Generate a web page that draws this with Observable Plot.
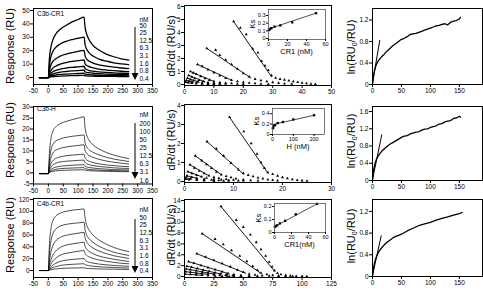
<!DOCTYPE html>
<html><head><meta charset="utf-8">
<script src="https://cdn.jsdelivr.net/npm/d3@7"></script>
<script src="https://cdn.jsdelivr.net/npm/@observablehq/plot@0.6"></script>
<style>
body{margin:0;background:#fff;}
#fig{position:relative;width:483px;height:291px;overflow:hidden;background:#fff;font-family:"Liberation Sans",Arial,Helvetica,sans-serif;color:#000;}
.ylab{position:absolute;font-size:11px;white-space:nowrap;transform:translate(-50%,-50%) rotate(-90deg);line-height:1;}
.ylab sub{font-size:7px;vertical-align:-2px;}
.t{position:absolute;white-space:nowrap;line-height:1;}
</style>
</head><body><div id="fig"></div>
<script>
// ---------- data ----------
const sensorTime = [-30,-15,0,3,8,15,25,40,60,80,100,120,123,128,135,150,170,195,220,245,270];

const c3bCR1Conc = ["50","25","12.5","6.3","3.1","1.6","0.8","0.4"];
const c3bCR1Resp = [
  [0,0,0,13,22,28,32.5,36,39,41.5,43.3,45,38,33,29,24,20.5,17.5,15.5,14,13],
  [0,0,0,8,15,19.5,22.5,25,27,28.3,29.3,30.2,25,21.5,19,16,13.8,12.2,11,10.2,9.6],
  [0,0,0,4.5,9,12,14,16,17.5,18.6,19.5,20.3,16.5,14,12.5,10.8,9.5,8.5,7.7,7.1,6.6],
  [0,0,0,2.5,5,7,8.5,10,11.2,12,12.6,13.2,10.5,9.2,8.3,7.2,6.3,5.6,5.1,4.7,4.4],
  [0,0,0,1.3,3,4.3,5.3,6.3,7.1,7.6,8,8.4,6.8,6,5.4,4.7,4.2,3.8,3.5,3.2,3],
  [0,0,0,0.8,1.8,2.6,3.3,4,4.5,4.9,5.2,5.5,4.4,3.9,3.6,3.2,2.9,2.6,2.4,2.2,2.1],
  [0,0,0,0.4,1,1.5,1.9,2.3,2.6,2.8,3,3.2,2.6,2.3,2.1,1.9,1.7,1.6,1.5,1.4,1.3],
  [0,0,0,0.2,0.5,0.7,0.9,1.1,1.3,1.4,1.5,1.6,1.3,1.2,1.1,1,0.9,0.85,0.8,0.75,0.7]
];

const c3bHConc = ["200","100","50","25","12.5","6.3","3.1","1.6"];
const c3bHResp = [
  [-0.4,-0.4,-0.4,8,15,19,21,22.5,23.5,24.3,25,25.6,21,17.5,15.3,12.8,10.9,9.3,8.1,7.2,6.5],
  [-0.4,-0.4,-0.4,5,10,13,14.5,15.5,16.2,16.7,17,17.3,14,12,10.8,9.4,8.2,7.1,6.3,5.7,5.2],
  [-0.4,-0.4,-0.4,3,6.5,9,10.3,11.2,11.8,12.2,12.5,12.8,10.4,9,8.1,7.1,6.2,5.4,4.8,4.4,4],
  [-0.3,-0.3,-0.3,1.8,4,5.6,6.6,7.3,7.8,8.1,8.3,8.5,6.9,6,5.4,4.7,4.1,3.6,3.3,3,2.8],
  [-0.3,-0.3,-0.3,1,2.5,3.6,4.4,5,5.3,5.5,5.7,5.8,4.8,4.2,3.8,3.3,2.9,2.6,2.3,2.1,2],
  [-0.3,-0.3,-0.3,0.5,1.4,2.1,2.6,3,3.3,3.5,3.6,3.7,3.1,2.7,2.5,2.2,1.9,1.7,1.5,1.4,1.3],
  [-0.3,-0.3,-0.3,0.3,0.8,1.2,1.6,1.9,2.1,2.2,2.3,2.4,2,1.8,1.6,1.4,1.2,1.1,1,0.9,0.85],
  [-0.3,-0.3,-0.3,0.1,0.4,0.7,0.9,1.1,1.2,1.3,1.35,1.4,1.2,1.1,1,0.9,0.8,0.7,0.6,0.55,0.5]
];

const c4bCR1Conc = ["50","25","12.5","6.3","3.1","1.6","0.8","0.4"];
const c4bCR1Resp = [
  [0,0,0,40,68,84,92,97,100,102,103,104,90,78,70,60,51.5,44.5,39,35,32],
  [0,0,0,25,48,62,70,75,78,79.5,80.5,81.5,70,61,55,47.5,41,35.5,31,28,25.5],
  [0,0,0,14,30,42,50,56,59.5,61.5,63,64.5,56,49,44,38,33,28.5,25,22.5,20.5],
  [0,0,0,8,17,26,33,39,43,45,46.5,47.8,41.5,36.5,33,28.5,24.5,21.5,19,17,15.5],
  [0,0,0,4,10,16,21,26,29,31,32.5,33.8,29.5,26,23.5,20.5,17.8,15.5,13.7,12.3,11.3],
  [0,0,0,2,5,9,12,15.5,17.5,18.7,19.5,20.2,17.8,15.8,14.3,12.5,10.9,9.6,8.6,7.8,7.2],
  [0,0,0,1,3,5,6.5,8.5,9.8,10.5,11,11.5,10.2,9.1,8.3,7.3,6.4,5.7,5.1,4.6,4.3],
  [0,0,0,0.5,1.2,2,2.7,3.4,3.9,4.2,4.4,4.6,4.1,3.7,3.4,3,2.7,2.4,2.2,2,1.9]
];

// dR/dt versus response: [response, rate] points per concentration (same order as above)
const c3bCR1Rate = [
  [[16.7,4.85],[19,4.35],[21,3.85],[23.2,2.75],[25,2.45],[26.2,1.8],[27.4,1.45],[28.5,1.1],[29.6,0.7],[31,0.5],[32.5,0.42],[34,0.36],[35.5,0.3],[37,0.24],[38.5,0.18],[40,0.12],[41.5,0.08],[43,0.05],[44.5,0.03]],
  [[7.6,2.78],[10.6,2.65],[12,2.25],[14,1.9],[16,1.55],[18,1.2],[20,0.85],[22,0.6],[24,0.42],[26,0.32],[28,0.24],[30,0.17],[32,0.11],[34,0.07],[36.5,0.04]],
  [[4.4,1.55],[6,1.4],[8,1.15],[10,0.92],[12,0.68],[14,0.48],[16,0.33],[18,0.24],[20,0.17],[22,0.12],[24,0.08],[26,0.05],[28.5,0.03]],
  [[2,1.0],[3,0.9],[4,0.8],[5.5,0.63],[7,0.47],[8.5,0.34],[10,0.24],[12,0.16],[14,0.11],[16,0.08],[18,0.05],[20,0.03]],
  [[1.4,0.7],[2.5,0.58],[3.5,0.46],[5,0.33],[6.5,0.23],[8,0.16],[10,0.11],[12,0.07],[14,0.04]],
  [[1,0.48],[2,0.38],[3,0.29],[4.5,0.21],[6,0.15],[8,0.1],[10,0.07],[12,0.05]],
  [[0.6,0.32],[1.5,0.25],[2.5,0.19],[4,0.13],[6,0.08],[8,0.05],[10,0.03]],
  [[0.4,0.18],[1.2,0.14],[2.5,0.1],[4,0.07],[6,0.04],[8,0.03]]
];
const c3bCR1RateFit = [[16.7,4.85,29.6,0.6],[7.6,2.78,22.6,0.5],[4.4,1.55,16,0.33],[2,1.0,10,0.24],[1.4,0.7,7,0.2],[1,0.48,5,0.18],[0.6,0.32,3,0.15],[0.4,0.18,2,0.1]];

const c3bHRate = [
  [[9.2,3.38],[12.1,2.63],[13.6,2.0],[14.8,1.45],[15.6,1.0],[16.3,0.7],[17,0.48],[18,0.38],[19,0.3],[20,0.22],[21,0.16],[22,0.11],[23,0.07],[24,0.05],[25,0.03]],
  [[4.6,2.1],[6.5,1.72],[8,1.35],[9.5,0.97],[11,0.62],[12,0.43],[13,0.34],[14,0.27],[15,0.2],[16,0.15],[17,0.1],[18,0.07],[19,0.04]],
  [[2.2,1.35],[3.5,1.1],[4.5,0.9],[5.5,0.7],[6.5,0.5],[7.5,0.36],[8.5,0.28],[9.5,0.21],[10.5,0.15],[12,0.1],[13.5,0.06],[15,0.04]],
  [[1.1,0.88],[2,0.72],[3,0.56],[4,0.42],[5,0.31],[6,0.23],[7,0.17],[8.5,0.12],[10,0.08],[12,0.05]],
  [[0.7,0.52],[1.5,0.43],[2.5,0.33],[3.5,0.25],[4.5,0.19],[6,0.13],[7.5,0.09],[9,0.06],[11,0.04]],
  [[0.5,0.3],[1.5,0.23],[2.5,0.17],[4,0.12],[5.5,0.08],[7,0.06],[9,0.04]],
  [[0.3,0.2],[1.2,0.15],[2.5,0.11],[4,0.08],[6,0.05],[8,0.03]],
  [[0.2,0.12],[1,0.1],[2.5,0.07],[4,0.05],[6,0.03]]
];
const c3bHRateFit = [[9.2,3.38,17,0.45],[4.6,2.1,12,0.4],[2.2,1.35,7.5,0.36],[1.1,0.88,5,0.3],[0.7,0.52,3.5,0.25],[0.5,0.3,2.5,0.17],[0.3,0.2,1.5,0.13],[0.2,0.12,1,0.1]];

const c4bCR1Rate = [
  [[31,12.9],[44,10.4],[50,9.1],[56,7.7],[61,6.3],[65,5.0],[69,3.8],[72,2.7],[74.5,1.8],[76.5,1.1],[79,0.6],[82,0.38],[86,0.22],[90,0.13],[95,0.07],[100,0.04],[104,0.02]],
  [[15,7.9],[26,6.9],[33,5.9],[40,4.8],[47,3.8],[53,2.8],[58,1.9],[62,1.15],[65,0.65],[70,0.38],[75,0.22],[80,0.13],[86,0.07],[92,0.03]],
  [[10.5,4.2],[18,3.6],[25,3.0],[32,2.4],[39,1.8],[45,1.2],[50,0.78],[55,0.47],[60,0.29],[66,0.17],[72,0.1],[80,0.05]],
  [[3.5,2.75],[8,2.45],[14,2.05],[20,1.65],[26,1.25],[32,0.88],[37,0.58],[42,0.36],[48,0.21],[55,0.12],[62,0.07]],
  [[2,1.9],[6,1.72],[11,1.47],[16,1.22],[21,0.97],[26,0.72],[31,0.51],[36,0.34],[42,0.2],[48,0.12],[55,0.06]],
  [[1.5,1.4],[5,1.26],[10,1.06],[15,0.86],[20,0.66],[25,0.49],[30,0.35],[35,0.24],[41,0.14],[48,0.07]],
  [[1,0.9],[5,0.79],[10,0.65],[15,0.51],[20,0.39],[25,0.28],[30,0.19],[36,0.11],[42,0.06]],
  [[0.5,0.45],[5,0.38],[10,0.3],[15,0.23],[20,0.16],[26,0.1],[32,0.06],[38,0.03]]
];
const c4bCR1RateFit = [[31,12.9,76.5,1.0],[15,7.9,64,0.75],[10.5,4.2,52,0.6],[3.5,2.75,38,0.5],[2,1.9,30,0.5],[1.5,1.4,25,0.45],[1,0.9,20,0.38],[0.5,0.45,15,0.22]];

// Ks insets
const ksCR1Conc = [0.4,0.8,1.6,3.1,6.3,12.5,25,50];
const ksC3bCR1 = [0.11,0.115,0.125,0.135,0.155,0.17,0.21,0.33];
const ksC3bCR1Fit = [[0,0.125],[50,0.33]];
const ksHConc = [1.6,3.1,6.3,12.5,25,50,100,200];
const ksC3bH = [0.12,0.13,0.17,0.18,0.22,0.24,0.29,0.37];
const ksC3bHFit = [[0,0.19],[200,0.37]];
const ksC4bCR1 = [0.045,0.045,0.05,0.055,0.07,0.09,0.14,0.22];
const ksC4bCR1Fit = [[0,0.045],[50,0.22]];

// ln(RU0/RU) versus time
const lnTime = [0,1,2,3,5,7,10,13,16,20,25,30,35,40,45,50,55,60,65,70,75,80,85,90,95,100,105,110,115,120,125,130,135,140,145,150,152];
const lnC3bCR1 = [0,0.1,0.18,0.24,0.32,0.38,0.44,0.48,0.52,0.56,0.62,0.67,0.72,0.76,0.8,0.84,0.86,0.89,0.93,0.94,0.95,0.97,0.99,1.01,1.03,1.05,1.07,1.09,1.1,1.12,1.13,1.11,1.16,1.18,1.19,1.22,1.25];
const lnC3bH = [0,0.15,0.25,0.32,0.42,0.5,0.57,0.63,0.68,0.73,0.79,0.84,0.88,0.92,0.96,1.0,1.03,1.04,1.08,1.1,1.12,1.13,1.17,1.19,1.2,1.23,1.25,1.27,1.31,1.32,1.36,1.38,1.39,1.44,1.45,1.49,1.47];
const lnTimeC4b = [0,1,2,3,5,7,10,13,16,20,25,30,35,40,45,50,60,70,80,90,100,110,120,130,140,150,155];
const lnC4bCR1 = [0,0.1,0.17,0.23,0.31,0.37,0.44,0.49,0.53,0.58,0.63,0.67,0.71,0.74,0.76,0.78,0.84,0.89,0.94,0.97,1.0,1.04,1.07,1.1,1.13,1.16,1.18];
const lnFitC3bCR1 = [[0,0.02],[12.5,0.82]];
const lnFitC3bH = [[0,0.02],[16,1.06]];
const lnFitC4bCR1 = [[0,0.02],[15,0.75]];

// ---------- drawing ----------
const fig = document.getElementById("fig");
const FONT = "'Liberation Sans', Arial, Helvetica, sans-serif";
const fmt = d => String(d);

function panel(f, o) {
  const mL = o.mL ?? 26, mR = 12, mT = 5, mB = 16;
  const w = f.R - f.L, h = f.B - f.T;
  const marks = [
    o.inset ? Plot.frame({fill: "white", stroke: "none"}) : null,
    ...o.marks,
    Plot.frame({stroke: o.inset ? "#555" : "black", strokeWidth: o.inset ? 0.8 : 1}),
    Plot.axisX(o.xt, {tickSize: o.ts ?? 3, tickPadding: 1, label: null, tickFormat: fmt}),
    Plot.axisY(o.yt, {tickSize: o.ts ?? 3, tickPadding: 1, label: null, tickFormat: fmt})
  ].filter(Boolean);
  const svg = Plot.plot({
    width: w + mL + mR, height: h + mT + mB,
    marginLeft: mL, marginRight: mR, marginTop: mT, marginBottom: mB,
    style: {fontSize: o.fs ?? "6.5px", fontFamily: FONT, background: "transparent", overflow: "visible", color: "black"},
    x: {domain: o.xd},
    y: {domain: o.yd},
    marks
  });
  Object.assign(svg.style, {position: "absolute", left: (f.L - mL) + "px", top: (f.T - mT) + "px"});
  fig.appendChild(svg);
}

function sensorData(resp) {
  const out = [];
  resp.forEach((vals, i) => vals.forEach((v, j) => out.push({t: sensorTime[j], v, s: i})));
  return out;
}
function ratePts(rate) {
  const out = [];
  rate.forEach((pts, i) => pts.forEach(([x, y]) => out.push({x, y, s: i})));
  return out;
}
function rateFits(fits) {
  const out = [];
  fits.forEach(([x0, y0, x1, y1], i) => { out.push({x: x0, y: y0, s: i}); out.push({x: x1, y: y1, s: i}); });
  return out;
}
function pairs(arr) { return arr.map(([x, y]) => ({x, y})); }

const rows = [
  {name: "C3b-CR1", conc: c3bCR1Conc, resp: c3bCR1Resp, rate: c3bCR1Rate, fit: c3bCR1RateFit,
   ksX: ksCR1Conc, ks: ksC3bCR1, ksFit: ksC3bCR1Fit, ksLabel: "CR1 (nM)",
   lnT: lnTime, ln: lnC3bCR1, lnFit: lnFitC3bCR1,
   c1: {L: 33, R: 152, T: 8, B: 84}, c1y: [-5.2, 51.5], c1yt: [0,10,20,30,40,50], sw: 1.3,
   c2: {L: 184, R: 331, T: 5, B: 85}, c2x: [0, 50], c2xt: [0,10,20,30,40,50], c2y: [-0.077, 6.077], c2yt: [0,1,2,3,4,5,6],
   ins: {L: 268, R: 325, T: 9, B: 39}, insX: [0, 60], insXt: [0,20,40,60], insY: [-0.013, 0.378], insYt: [0,0.1,0.2,0.3],
   c3: {L: 372, R: 482, T: 8, B: 84}, c3y: [0, 1.414], c3yt: [0,0.4,0.8,1.2],
   leg: {nm: 20, y0: 26, dy: 7.6, a0: 27, a1: 80}, title: 14, lab: 46},
  {name: "C3b-H", conc: c3bHConc, resp: c3bHResp, rate: c3bHRate, fit: c3bHRateFit,
   ksX: ksHConc, ks: ksC3bH, ksFit: ksC3bHFit, ksLabel: "H (nM)",
   lnT: lnTime, ln: lnC3bH, lnFit: lnFitC3bH,
   c1: {L: 33, R: 152, T: 106, B: 183.5}, c1y: [-5.1, 30.3], c1yt: [-5,0,5,10,15,20,25,30], sw: 0.7,
   c2: {L: 184, R: 331, T: 104, B: 182}, c2x: [0, 30], c2xt: [0,10,20,30], c2y: [-0.053, 4.05], c2yt: [0,1,2,3,4],
   ins: {L: 272, R: 324, T: 108, B: 134}, insX: [0, 250], insXt: [0,100,200], insY: [0, 0.5], insYt: [0,0.2,0.4],
   c3: {L: 372, R: 482, T: 106, B: 180}, c3y: [0, 1.717], c3yt: [0,0.4,0.8,1.2,1.6],
   leg: {nm: 115.7, y0: 124.3, dy: 8.1, a0: 123, a1: 179}, title: 109.5, lab: 140},
  {name: "C4b-CR1", conc: c4bCR1Conc, resp: c4bCR1Resp, rate: c4bCR1Rate, fit: c4bCR1RateFit,
   ksX: ksCR1Conc, ks: ksC4bCR1, ksFit: ksC4bCR1Fit, ksLabel: "CR1(nM)",
   lnT: lnTimeC4b, ln: lnC4bCR1, lnFit: lnFitC4bCR1,
   c1: {L: 33, R: 152, T: 198, B: 277}, c1y: [-11.8, 121.7], c1yt: [0,20,40,60,80,100,120], sw: 0.7,
   c2: {L: 184, R: 331, T: 199, B: 277}, c2x: [0, 125], c2xt: [0,25,50,75,100,125], c2y: [-0.184, 14.18], c2yt: [0,2,4,6,8,10,12,14],
   ins: {L: 274, R: 325, T: 203, B: 232}, insX: [0, 60], insXt: [0,20,40,60], insY: [0, 0.223], insYt: [0,0.1,0.2],
   c3: {L: 372, R: 482, T: 199, B: 276}, c3y: [0, 1.42], c3yt: [0,0.4,0.8,1.2],
   leg: {nm: 210.7, y0: 218, dy: 7.7, a0: 219, a1: 273}, title: 204, lab: 235}
];

rows.forEach(r => {
  // column 1: sensorgrams
  panel(r.c1, {
    xd: [-50, 350], xt: [-50,0,50,100,150,200,250,300,350], yd: r.c1y, yt: r.c1yt,
    marks: [Plot.line(sensorData(r.resp), {x: "t", y: "v", z: "s", stroke: "black", strokeWidth: r.sw, curve: "monotone-x", clip: true})]
  });
  // column 2: dR/dt
  panel(r.c2, {
    xd: r.c2x, xt: r.c2xt, yd: r.c2y, yt: r.c2yt,
    marks: [
      Plot.line(rateFits(r.fit), {x: "x", y: "y", z: "s", stroke: "black", strokeWidth: 0.9, clip: true}),
      Plot.dot(ratePts(r.rate), {x: "x", y: "y", r: 1.1, fill: "black", symbol: "triangle", clip: true})
    ]
  });
  // inset Ks
  panel(r.ins, {
    inset: true, mL: 16, fs: "5.5px", ts: 2,
    xd: r.insX, xt: r.insXt, yd: r.insY, yt: r.insYt,
    marks: [
      Plot.line(pairs(r.ksFit), {x: "x", y: "y", stroke: "black", strokeWidth: 0.7}),
      Plot.dot(r.ksX.map((c, i) => ({x: c, y: r.ks[i]})), {x: "x", y: "y", r: 1.3, fill: "black", symbol: "square"})
    ]
  });
  // column 3: ln(RU0/RU)
  panel(r.c3, {
    xd: [0, 190], xt: [0,50,100,150], yd: r.c3y, yt: r.c3yt,
    marks: [
      Plot.line(r.lnT.map((t, i) => ({x: t, y: r.ln[i]})), {x: "x", y: "y", stroke: "black", strokeWidth: 1.3}),
      Plot.line(pairs(r.lnFit), {x: "x", y: "y", stroke: "black", strokeWidth: 1})
    ]
  });

  // texts
  const add = (html, cls, css) => { const d = document.createElement("div"); d.className = cls; d.innerHTML = html; Object.assign(d.style, css); fig.appendChild(d); return d; };
  add("Response (RU)", "ylab", {left: "10px", top: r.lab + "px"});
  add("dR/dt (RU/s)", "ylab", {left: "171px", top: r.lab + "px"});
  add("ln(RU<sub>0</sub>/RU)", "ylab", {left: "352px", top: (r.lab + 1) + "px"});
  add(r.name, "t", {left: "37px", top: (r.title - 3.5) + "px", fontSize: "6.5px"});
  add("Ks", "ylab", {left: (r.ins.L - 15) + "px", top: ((r.ins.T + r.ins.B) / 2) + "px", fontSize: "7.5px"});
  add(r.ksLabel, "t", {left: ((r.ins.L + r.ins.R) / 2) + "px", top: (r.ins.B + 9) + "px", fontSize: "7.5px", transform: "translateX(-50%)"});
  add("nM", "t", {left: "139.5px", top: (r.leg.nm - 3.5) + "px", fontSize: "6.5px"});
  r.conc.forEach((c, i) => add(c, "t", {left: "139.5px", top: (r.leg.y0 + i * r.leg.dy - 3.5) + "px", fontSize: "6.5px"}));
  // arrow
  const ns = "http://www.w3.org/2000/svg";
  const s = document.createElementNS(ns, "svg");
  s.setAttribute("width", 12); s.setAttribute("height", r.leg.a1 - r.leg.a0 + 2);
  Object.assign(s.style, {position: "absolute", left: "128.5px", top: r.leg.a0 + "px"});
  const h = r.leg.a1 - r.leg.a0;
  s.innerHTML = `<line x1="6" y1="0" x2="6" y2="${h - 6}" stroke="black" stroke-width="1"/><polygon points="2.5,${h - 7} 9.5,${h - 7} 6,${h}" fill="black"/>`;
  fig.appendChild(s);
});
</script>
</body></html>
